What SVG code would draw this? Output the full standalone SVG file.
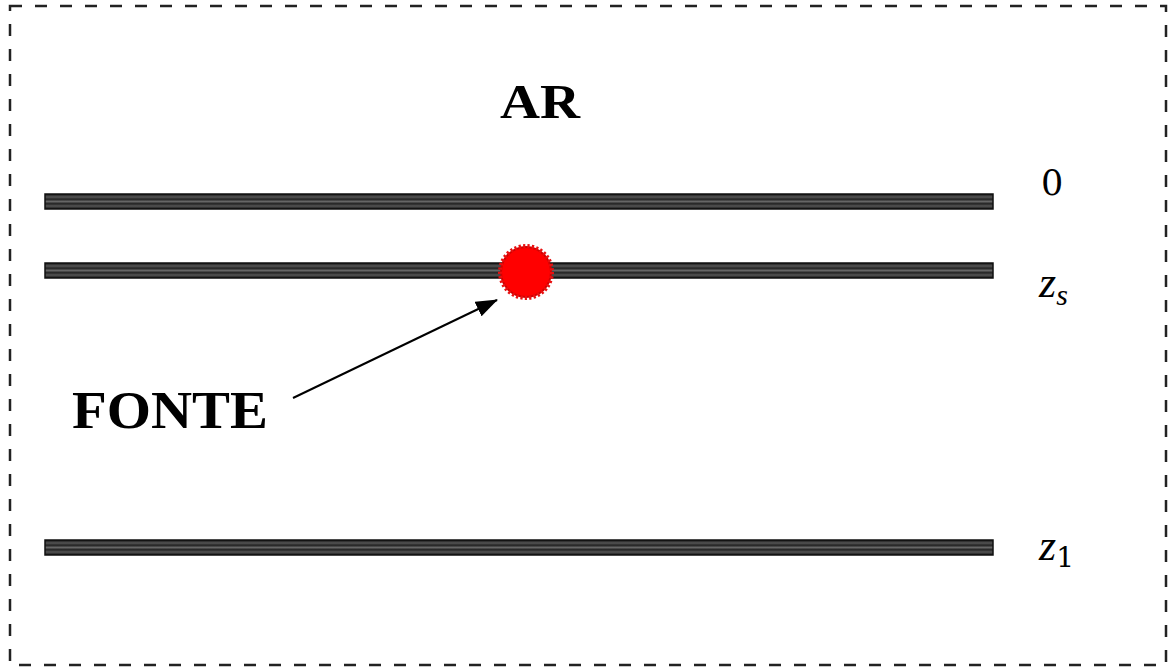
<svg xmlns="http://www.w3.org/2000/svg" width="1172" height="670" viewBox="0 0 1172 670">
  <defs>
    <linearGradient id="barFill" x1="0" y1="0" x2="0" y2="1">
      <stop offset="0" stop-color="#111"/>
      <stop offset="0.2" stop-color="#555"/>
      <stop offset="0.35" stop-color="#222"/>
      <stop offset="0.5" stop-color="#666"/>
      <stop offset="0.65" stop-color="#222"/>
      <stop offset="0.8" stop-color="#555"/>
      <stop offset="1" stop-color="#111"/>
    </linearGradient>
    <marker id="arrowHead" viewBox="0 0 22 16" refX="21" refY="8" markerWidth="22" markerHeight="16" markerUnits="userSpaceOnUse" orient="auto">
      <path d="M0,0 L22,8 L0,16 z" fill="#000"/>
    </marker>
  </defs>
  <style>
    .frame { fill: none; stroke: #222; stroke-width: 2.5; stroke-dasharray: 12 13; }
    .layer { fill: url(#barFill); stroke: #111; stroke-width: 1.5; }
    .title { font-family: "Liberation Serif", "Times New Roman", serif; font-weight: bold; fill: #000; }
    .math { font-family: "DejaVu Serif", "Liberation Serif", serif; fill: #000; }
    .var { font-family: "Liberation Serif", "Times New Roman", serif; font-style: italic; fill: #000; }
    .pointer { stroke: #000; stroke-width: 2; fill: none; }
  </style>

  <rect class="frame" x="10" y="6" width="1156" height="659"/>

  <g id="label-ar">
    <text class="title" x="500" y="118" font-size="48" textLength="80" lengthAdjust="spacingAndGlyphs">AR</text>
  </g>

  <g id="layer-0">
    <rect class="layer" x="45" y="194" width="948" height="15"/>
    <text class="math" x="1041" y="195" font-size="35">0</text>
  </g>

  <g id="layer-zs">
    <rect class="layer" x="45" y="263" width="948" height="15"/>
    <text class="var" x="1039" y="297" font-size="44">z<tspan font-size="30" dy="8">s</tspan></text>
  </g>

  <g id="layer-z1">
    <rect class="layer" x="45" y="540" width="948" height="15"/>
    <text class="var" x="1039" y="560" font-size="44">z<tspan class="math" font-size="28" dy="7" font-style="normal">1</tspan></text>
  </g>

  <g id="source">
    <circle cx="526" cy="272" r="26" fill="#d00000" stroke="#e81010" stroke-width="4" stroke-dasharray="2.2 2.2"/>
    <circle cx="526" cy="272" r="24" fill="#ff0000"/>
  </g>

  <g id="label-fonte">
    <text class="title" x="72" y="428" font-size="53" textLength="196" lengthAdjust="spacingAndGlyphs">FONTE</text>
  </g>

  <g id="connectors">
    <line class="pointer" x1="293" y1="398" x2="497" y2="300" marker-end="url(#arrowHead)"/>
  </g>
</svg>
